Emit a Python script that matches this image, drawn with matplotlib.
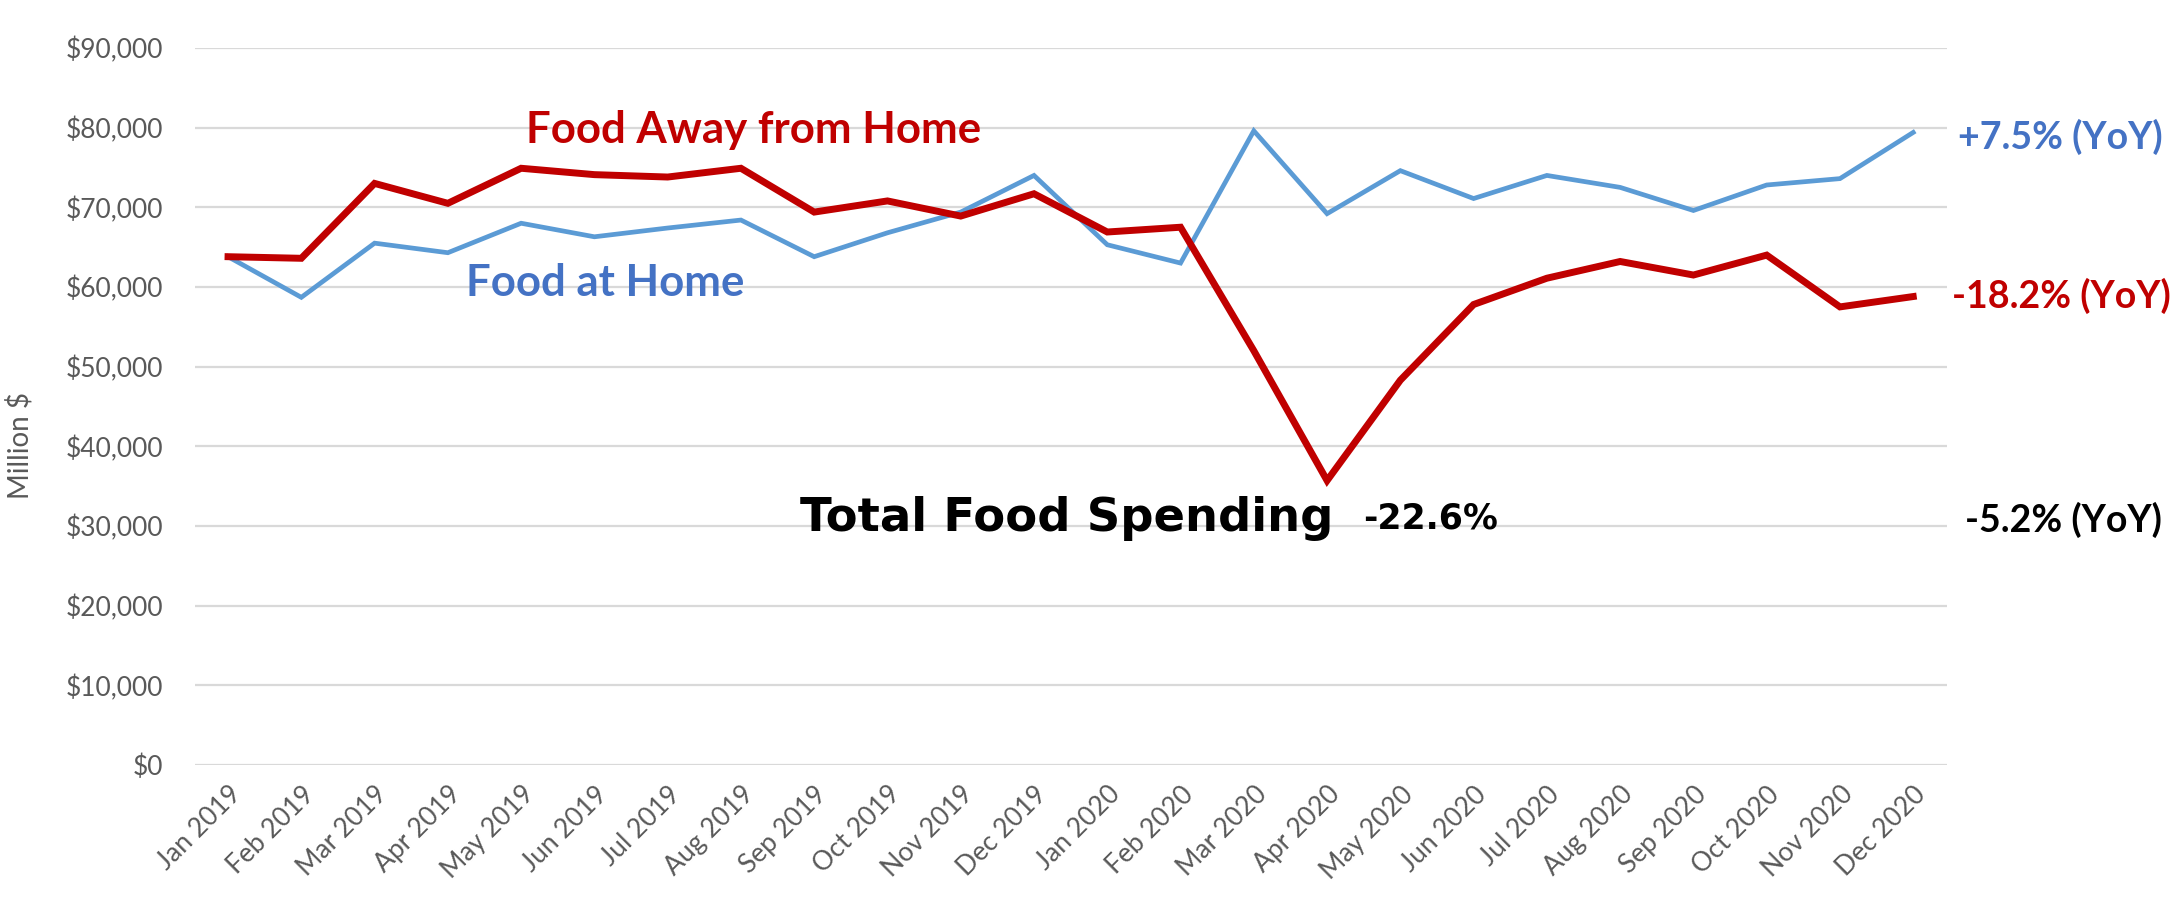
import matplotlib.pyplot as plt

plt.rcParams['font.family'] = ['Lato', 'DejaVu Sans']

# monthly spending, million $
months = ["Jan 2019", "Feb 2019", "Mar 2019", "Apr 2019", "May 2019", "Jun 2019",
          "Jul 2019", "Aug 2019", "Sep 2019", "Oct 2019", "Nov 2019", "Dec 2019",
          "Jan 2020", "Feb 2020", "Mar 2020", "Apr 2020", "May 2020", "Jun 2020",
          "Jul 2020", "Aug 2020", "Sep 2020", "Oct 2020", "Nov 2020", "Dec 2020"]
food_home = [63800, 58700, 65500, 64300, 68000, 66300, 67400, 68400, 63800, 66800, 69400, 74000,
             65300, 63000, 79600, 69200, 74600, 71100, 74000, 72500, 69600, 72800, 73600, 79400]
food_away = [63800, 63600, 73000, 70500, 74900, 74100, 73800, 74900, 69400, 70800, 68900, 71700,
             66900, 67500, 52000, 35700, 48300, 57800, 61100, 63200, 61500, 64000, 57500, 58800]
yticks = [0, 10000, 20000, 30000, 40000, 50000, 60000, 70000, 80000, 90000]
ytick_labels = ["$0", "$10,000", "$20,000", "$30,000", "$40,000", "$50,000",
                "$60,000", "$70,000", "$80,000", "$90,000"]

RED = "#C00000"
BLUE = "#4472C4"
GRAY = "#595959"

fig = plt.figure(figsize=(21.7, 9.05), dpi=100)
ax = fig.add_axes([0.0899, 0.1547, 0.8073, 0.7923])

x = range(len(months))
ax.plot(x, food_home, color="#5B9BD5", linewidth=3.4, solid_joinstyle="miter", zorder=3)
ax.plot(x, food_away, color=RED, linewidth=5, solid_joinstyle="miter", zorder=4)

ax.set_xlim(-0.45, 23.46)
ax.set_ylim(0, 90000)
ax.set_yticks(yticks)
ax.set_yticklabels(ytick_labels)
ax.set_xticks(list(x))
ax.set_xticklabels(months, rotation=45, ha="right", va="top", rotation_mode="anchor")
ax.grid(axis="y", color="#D9D9D9", linewidth=1.6)
ax.set_axisbelow(True)
for s in ax.spines.values():
    s.set_visible(False)
ax.tick_params(axis="y", length=0, pad=23, labelsize=19, labelcolor=GRAY)
ax.tick_params(axis="x", length=0, pad=12, labelsize=19, labelcolor=GRAY)

fig.text(0.009, 0.508, "Million $", rotation=90, ha="center", va="center",
         fontsize=20, color=GRAY)

# annotations
ax.text(4.07, 79700, "Food Away from Home", color=RED, fontsize=31.5,
        fontweight="bold", va="center", ha="left")
ax.text(3.25, 60500, "Food at Home", color=BLUE, fontsize=31.5,
        fontweight="bold", va="center", ha="left")
ax.text(7.81, 30900, "Total Food Spending", color="black", fontsize=33.5,
        fontweight="bold", va="center", ha="left", family="DejaVu Sans")
ax.text(15.49, 30900, "-22.6%", color="black", fontsize=25,
        fontweight="bold", va="center", ha="left", family="DejaVu Sans")
ax.text(23.61, 78800, "+7.5% (YoY)", color=BLUE, fontsize=27,
        fontweight="bold", va="center", ha="left", clip_on=False)
ax.text(23.53, 58850, "-18.2% (YoY)", color=RED, fontsize=27,
        fontweight="bold", va="center", ha="left", clip_on=False)
ax.text(23.71, 30740, "-5.2% (YoY)", color="black", fontsize=27,
        fontweight="bold", va="center", ha="left", clip_on=False)

fig.savefig("out.png", dpi=100)
